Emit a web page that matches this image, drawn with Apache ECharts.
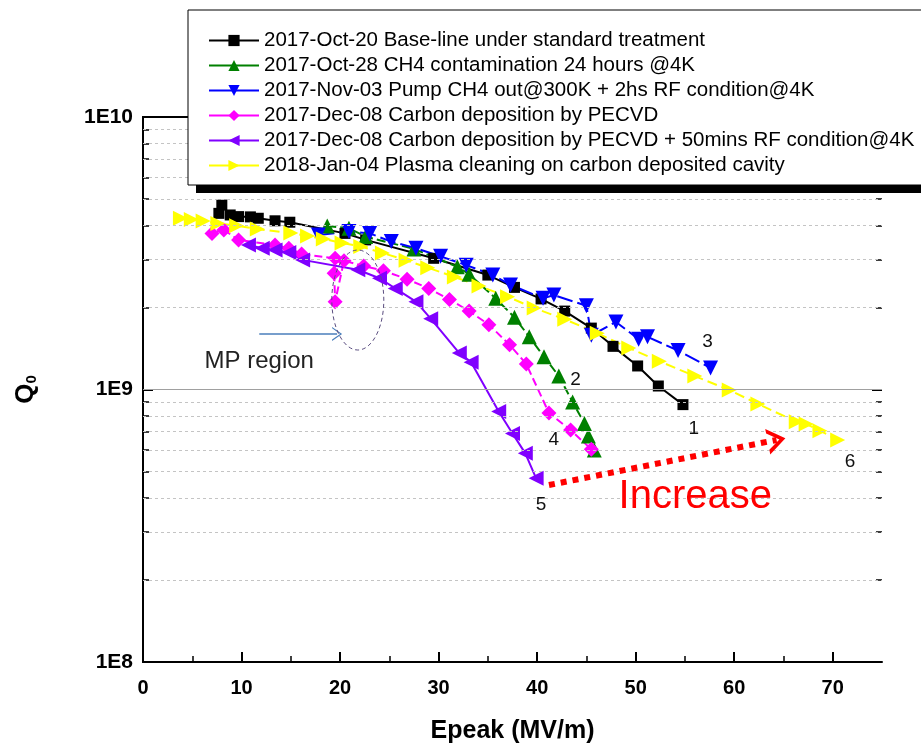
<!DOCTYPE html>
<html lang="en">
<head>
<meta charset="UTF-8">
<title>Q0 vs Epeak</title>
<style>
  html, body { margin: 0; padding: 0; background: #fff; }
  #main { width: 921px; height: 745px; }
</style>
<script src="https://cdnjs.cloudflare.com/ajax/libs/echarts/6.0.0/echarts.min.js"></script>
</head>
<body>
<div id="main"></div>
<script>
// ---- data (Epeak MV/m, Q0) ----
const names = [
  '2017-Oct-20 Base-line under standard treatment',
  '2017-Oct-28 CH4 contamination 24 hours @4K',
  '2017-Nov-03 Pump CH4 out@300K + 2hs RF condition@4K',
  '2017-Dec-08 Carbon deposition by PECVD',
  '2017-Dec-08 Carbon deposition by PECVD + 50mins RF condition@4K',
  '2018-Jan-04 Plasma cleaning on carbon deposited cavity'
];

const baseline = [[7.7, 4.43e9], [8.0, 4.75e9], [8.85, 4.37e9], [9.7, 4.31e9], [10.9, 4.30e9], [11.7, 4.25e9],
  [13.4, 4.16e9], [14.9, 4.11e9], [20.5, 3.74e9], [22.6, 3.54e9], [29.5, 3.03e9], [35.0, 2.63e9],
  [37.7, 2.37e9], [40.4, 2.15e9], [42.8, 1.94e9], [45.5, 1.68e9], [47.7, 1.44e9], [50.2, 1.22e9],
  [52.3, 1.03e9], [54.8, 8.8e8]];

const ch4 = [[18.7, 3.98e9], [20.9, 3.91e9], [22.6, 3.64e9], [27.5, 3.28e9], [31.9, 2.82e9], [33.1, 2.65e9],
  [35.8, 2.16e9], [37.7, 1.84e9], [39.2, 1.56e9], [40.7, 1.32e9], [42.2, 1.12e9], [43.6, 9.0e8],
  [44.8, 7.5e8], [45.2, 6.75e8], [45.8, 6.0e8]];

const pumped = [[17.8, 3.69e9], [20.9, 3.80e9], [23.0, 3.74e9], [25.2, 3.49e9], [27.7, 3.30e9], [30.2, 3.08e9],
  [32.8, 2.86e9], [35.5, 2.63e9], [37.3, 2.42e9], [40.6, 2.16e9], [41.7, 2.22e9], [45.0, 2.03e9],
  [45.5, 1.58e9], [48.0, 1.77e9], [50.3, 1.53e9], [51.2, 1.56e9], [54.3, 1.39e9], [57.6, 1.20e9]];

const pecvd = [[7.0, 3.74e9], [8.2, 3.85e9], [9.7, 3.54e9], [13.4, 3.39e9], [14.8, 3.30e9], [16.1, 3.14e9],
  [19.5, 3.03e9], [19.4, 2.67e9], [19.5, 2.10e9], [20.4, 2.97e9], [22.4, 2.84e9], [24.4, 2.73e9],
  [26.8, 2.54e9], [29.0, 2.35e9], [31.1, 2.14e9], [33.1, 1.94e9], [35.1, 1.73e9], [37.2, 1.46e9],
  [38.9, 1.24e9], [41.2, 8.2e8], [43.4, 7.1e8], [45.5, 6.03e8]];

const pecvdRf = [[10.7, 3.39e9], [12.1, 3.30e9], [13.4, 3.25e9], [14.8, 3.18e9], [16.2, 2.99e9], [21.8, 2.75e9],
  [24.0, 2.56e9], [25.6, 2.35e9], [27.7, 2.10e9], [29.2, 1.82e9], [32.1, 1.36e9], [33.3, 1.26e9],
  [36.1, 8.3e8], [37.5, 6.9e8], [38.8, 5.83e8], [39.9, 4.72e8]];

const plasma = [[3.8, 4.25e9], [4.9, 4.21e9], [6.1, 4.15e9], [7.6, 4.07e9], [9.5, 3.99e9], [11.6, 3.88e9],
  [15.0, 3.75e9], [16.7, 3.66e9], [18.3, 3.57e9], [20.2, 3.45e9], [22.1, 3.35e9], [24.3, 3.17e9],
  [26.7, 2.98e9], [28.9, 2.80e9], [31.6, 2.59e9], [34.1, 2.40e9], [37.0, 2.19e9], [39.7, 1.99e9],
  [42.8, 1.81e9], [46.1, 1.61e9], [49.3, 1.42e9], [52.4, 1.27e9], [56.0, 1.12e9], [59.5, 9.96e8],
  [62.4, 8.85e8], [66.3, 7.62e8], [67.3, 7.47e8], [68.7, 7.06e8], [70.5, 6.53e8]];

const xMajorTicks = [0, 10, 20, 30, 40, 50, 60, 70];
const xMinorTicks = [5, 15, 25, 35, 45, 55, 65];
const yMajorTicks = [1e8, 1e9, 1e10];
const yMinorTicks = [2e8, 3e8, 4e8, 5e8, 6e8, 7e8, 8e8, 9e8, 2e9, 3e9, 4e9, 5e9, 6e9, 7e9, 8e9, 9e9];

// curve number labels and notes, in data coordinates
const curveTags = ['1', '2', '3', '4', '5', '6'];
const curveTagX = [55.9, 43.9, 57.3, 41.7, 40.4, 71.75];
const curveTagY = [7.2e8, 1.09e9, 1.50e9, 6.53e8, 3.77e8, 5.43e8];
const mpText = 'MP region';
const mpAt = [11.8, 1.27e9];
const mpEllipseAt = [21.8, 2.13e9];
const mpArrow = [[11.8, 1.60e9], [19.7, 1.60e9]];
const increaseText = 'Increase';
const increaseAt = [56.05, 4.03e8];
const increaseArrow = [[41.2, 4.46e8], [64.3, 6.53e8]];

// ---- chart ----
const chart = echarts.init(document.getElementById('main'));

const font = 'Arial, "Liberation Sans", sans-serif';

function curve(name, data, color, symbol, rotate, size, dash) {
  return {
    name: name,
    type: 'line',
    data: data,
    symbol: symbol,
    symbolRotate: rotate,
    symbolSize: size,
    xAxisIndex: 0,
    yAxisIndex: 0,
    lineStyle: { color: color, width: 2, type: dash },
    itemStyle: { color: color },
    z: 3
  };
}

// axis that only draws inward ticks at given values
function tickAxis(kind, position, values, len, width) {
  const a = {
    position: position,
    axisLine: { show: false },
    axisTick: { show: true, inside: true, length: len, customValues: values, lineStyle: { color: '#000', width: width } },
    axisLabel: { show: false },
    splitLine: { show: false }
  };
  if (kind === 'x') { a.type = 'value'; a.min = 0; a.max = 75; }
  else { a.type = 'log'; a.min = 1e8; a.max = 1e10; }
  return a;
}

const chevron = 'path://M0,10 L5,0 L10,10 L8.2,10 L5,3.4 L1.8,10 Z';

const option = {
  animation: false,
  backgroundColor: '#fff',
  grid: { left: 143, right: 39, top: 117, bottom: 83, outerBoundsMode: 'none' },
  legend: {
    data: names,
    orient: 'vertical',
    left: 203,
    top: 25,
    itemWidth: 50,
    itemHeight: 14,
    itemGap: 4,
    lineStyle: { type: 'solid' },
    textStyle: { fontFamily: font, fontSize: 20.5, lineHeight: 20, color: '#000' },
    z: 20
  },
  xAxis: [
    {
      type: 'value', min: 0, max: 75, position: 'bottom',
      axisLine: { lineStyle: { color: '#000', width: 2 } },
      axisTick: { show: false },
      axisLabel: { customValues: xMajorTicks, color: '#000', fontFamily: font, fontWeight: 'bold', fontSize: 20, margin: 16 },
      splitLine: { show: false },
      name: 'Epeak (MV/m)', nameLocation: 'middle', nameGap: 57,
      nameTextStyle: { fontFamily: font, fontWeight: 'bold', fontSize: 25, color: '#000' }
    },
    tickAxis('x', 'bottom', xMajorTicks, 10, 2),
    tickAxis('x', 'bottom', xMinorTicks, 6, 1.5),
    {
      type: 'value', min: 0, max: 75, position: 'top',
      axisLine: { lineStyle: { color: '#000', width: 2 } },
      axisTick: { show: false }, axisLabel: { show: false }, splitLine: { show: false }
    }
  ],
  yAxis: [
    {
      type: 'log', min: 1e8, max: 1e10, position: 'left',
      axisLine: { show: true, lineStyle: { color: '#000', width: 2 } },
      axisTick: { show: false },
      axisLabel: {
        customValues: yMajorTicks,
        formatter: v => '1E' + Math.round(Math.log10(v)),
        color: '#000', fontFamily: font, fontWeight: 'bold', fontSize: 21, margin: 10
      },
      splitLine: { show: false },
      name: 'Q{s|0}', nameLocation: 'middle', nameRotate: 90, nameGap: 104,
      nameTextStyle: {
        fontFamily: font, fontWeight: 'bold', fontSize: 26, color: '#000',
        rich: { s: { fontFamily: font, fontWeight: 'bold', fontSize: 15, color: '#000', padding: [12, 0, 0, 0] } }
      }
    },
    tickAxis('y', 'left', yMajorTicks, 10, 2),
    tickAxis('y', 'left', yMinorTicks, 6, 1.5),
    {
      type: 'log', min: 1e8, max: 1e10, position: 'right',
      axisLine: { show: true, lineStyle: { color: '#000', width: 2 } },
      axisTick: { show: false }, axisLabel: { show: false }, splitLine: { show: false }
    },
    tickAxis('y', 'right', yMajorTicks, 10, 2),
    tickAxis('y', 'right', yMinorTicks, 6, 1.5)
  ],
  series: [
    {
      name: '_grid', type: 'line', data: [], z: 1, silent: true,
      markLine: {
        silent: true, symbol: ['none', 'none'], label: { show: false },
        lineStyle: { color: '#c4c4c4', width: 1, type: [3, 3] },
        data: yMinorTicks.map(v => ({ yAxis: v })).concat([{ yAxis: 1e9, lineStyle: { color: '#a0a0a0', type: 'solid', width: 1.2 } }])
      }
    },
    curve(names[0], baseline, '#000000', 'rect', 0, 11, 'solid'),
    curve(names[1], ch4, '#008000', 'triangle', 0, 15, [9, 4]),
    curve(names[2], pumped, '#0000ff', 'triangle', 180, 15, [16, 5]),
    curve(names[3], pecvd, '#ff00ff', 'diamond', 0, 15, [8, 4]),
    curve(names[4], pecvdRf, '#8000ff', 'triangle', 90, 15, 'solid'),
    curve(names[5], plasma, '#ffff00', 'triangle', -90, 15, [10, 5]),
    {
      name: '_arrows', type: 'line', data: [], z: 4, silent: true,
      markLine: {
        silent: true, label: { show: false },
        data: [
          [
            { coord: increaseArrow[0], symbol: 'none', lineStyle: { color: '#ff0000', width: 6, type: [6, 6] } },
            { coord: increaseArrow[1], symbol: chevron, symbolSize: [26, 18] }
          ],
          [
            { coord: mpArrow[0], symbol: 'none', lineStyle: { color: '#4a7ebb', width: 1.5, type: 'solid' } },
            { coord: mpArrow[1], symbol: 'path://M0,10 L5,0 L10,10 L9,10 L5,2 L1,10 Z', symbolSize: [14, 10] }
          ]
        ]
      }
    }
  ]
};

chart.setOption(option);

// annotations placed from data coordinates
const px = p => chart.convertToPixel({ gridIndex: 0 }, p);
const graphics = [
  { type: 'rect', shape: { x: 196, y: 18, width: 760, height: 175 }, style: { fill: '#000' }, z: 10 },
  { type: 'rect', shape: { x: 188, y: 10, width: 760, height: 175 }, style: { fill: '#fff', stroke: '#000', lineWidth: 1 }, z: 11 }
];
curveTags.forEach((t, i) => {
  const p = px([curveTagX[i], curveTagY[i]]);
  graphics.push({ type: 'text', x: p[0], y: p[1], z: 5,
    style: { text: t, font: '19px ' + font, fill: '#111', align: 'center', verticalAlign: 'middle' } });
});
let p = px(mpAt);
graphics.push({ type: 'text', x: p[0], y: p[1], z: 5,
  style: { text: mpText, font: '24px ' + font, fill: '#222', align: 'center', verticalAlign: 'middle' } });
p = px(increaseAt);
graphics.push({ type: 'text', x: p[0], y: p[1], z: 5,
  style: { text: increaseText, font: '40px ' + font, fill: '#ff0000', align: 'center', verticalAlign: 'middle' } });
p = px(mpEllipseAt);
graphics.push({ type: 'ellipse', x: p[0], y: p[1], z: 5, shape: { cx: 0, cy: 0, rx: 26, ry: 50 },
  style: { fill: 'none', stroke: '#5a4d80', lineWidth: 1, lineDash: [4, 3] } });

chart.setOption({ graphic: graphics });

window.addEventListener('resize', () => chart.resize());
</script>
</body>
</html>
